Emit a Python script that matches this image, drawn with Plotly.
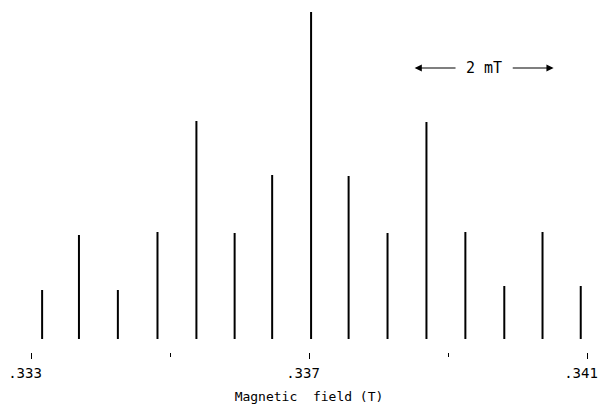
import plotly.graph_objects as go

# Resonance line positions (T) and relative intensities (arb. units)
field_T = [0.33316, 0.33369, 0.33425, 0.33482, 0.33538, 0.33593, 0.33647, 0.33703,
           0.33757, 0.33813, 0.33869, 0.33925, 0.33981, 0.34036, 0.34091]
intensity = [49, 104, 49, 107, 218, 106, 164, 327, 163, 106, 217, 107, 53, 107, 53]

tick_vals = [0.333, 0.337, 0.341]
tick_text = [".333", ".337", ".341"]

# 2 mT scale bar
scale_start = 0.33852
scale_end = 0.34052
scale_y = 271

FONT = "DejaVu Sans Mono"

xs, ys = [], []
for f, h in zip(field_T, intensity):
    xs += [f, f, None]
    ys += [0, h, None]

fig = go.Figure()
fig.add_trace(go.Scatter(x=xs, y=ys, mode="lines",
                         line=dict(color="black", width=2),
                         hoverinfo="skip", showlegend=False))

mid = (scale_start + scale_end) / 2
gap = 0.00039
fig.add_annotation(x=scale_start, y=scale_y, ax=mid - gap, ay=scale_y,
                   xref="x", yref="y", axref="x", ayref="y", text="",
                   showarrow=True, arrowhead=2, arrowsize=1.2, arrowwidth=1.2,
                   arrowcolor="black")
fig.add_annotation(x=scale_end, y=scale_y, ax=mid + gap, ay=scale_y,
                   xref="x", yref="y", axref="x", ayref="y", text="",
                   showarrow=True, arrowhead=2, arrowsize=1.2, arrowwidth=1.2,
                   arrowcolor="black")
fig.add_annotation(x=mid, y=scale_y, xref="x", yref="y", text="2 mT",
                   showarrow=False, font=dict(family=FONT, size=15, color="black"))

fig.update_layout(
    width=598, height=412,
    margin=dict(l=31, r=9, t=0, b=60),
    paper_bgcolor="white", plot_bgcolor="white",
    xaxis=dict(range=[0.333, 0.341], tickvals=tick_vals, ticktext=tick_text,
               ticks="outside", ticklen=6, tickwidth=1, tickcolor="black",
               minor=dict(tickvals=[0.335, 0.339], ticks="outside", ticklen=4,
                          tickwidth=1, tickcolor="black"),
               showline=False, showgrid=False, zeroline=False,
               anchor="free", position=0,
               ticklabeloverflow="allow", ticklabelshift=-6, ticklabelstandoff=2,
               tickfont=dict(family=FONT, size=14, color="black"),
               title=dict(text="Magnetic\u00a0 field (T)", standoff=12,
                          font=dict(family=FONT, size=13, color="black"))),
    yaxis=dict(range=[0, 339], domain=[0.037, 1], visible=False),
)

fig.write_html("out.html")
